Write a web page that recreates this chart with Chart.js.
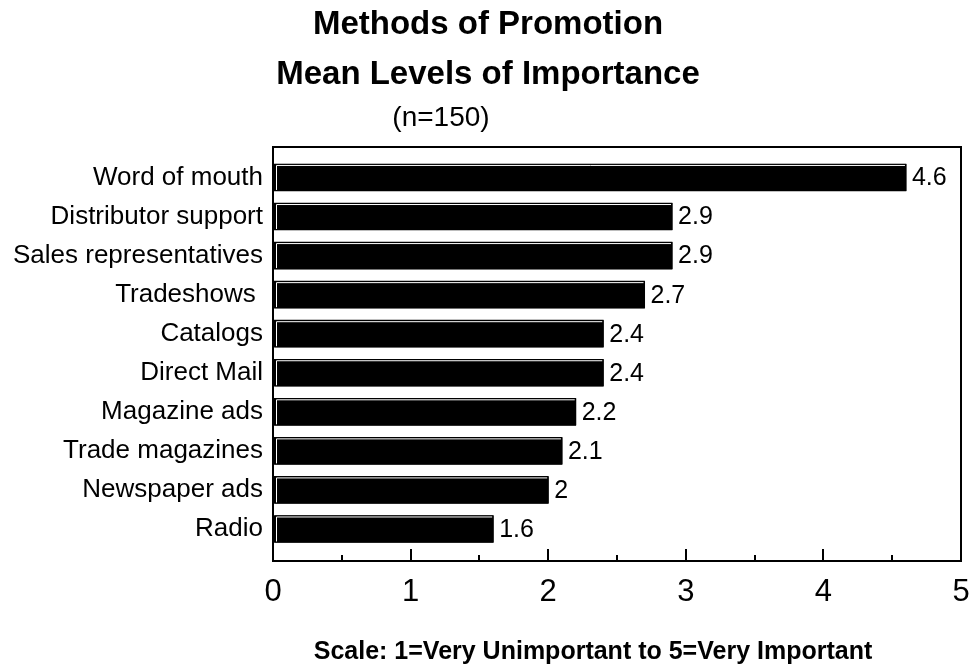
<!DOCTYPE html>
<html>
<head>
<meta charset="utf-8">
<script src="https://cdn.jsdelivr.net/npm/chart.js@4/dist/chart.umd.min.js"></script>
<style>
  html, body { margin: 0; padding: 0; background: #fff; }
  #wrap { width: 974px; height: 666px; position: relative; }
</style>
</head>
<body>
<div id="wrap"><canvas id="c"></canvas></div>
<script>
const categories = ["Word of mouth", "Distributor support", "Sales representatives", "Tradeshows ", "Catalogs", "Direct Mail", "Magazine ads", "Trade magazines", "Newspaper ads", "Radio"];
const meanValues = [4.6, 2.9, 2.9, 2.7, 2.4, 2.4, 2.2, 2.1, 2, 1.6];
const xTickValues = [0, 1, 2, 3, 4, 5];
const titleLines = ["Methods of Promotion", "Mean Levels of Importance"];
const subtitleText = "(n=150)";
const footerText = "Scale: 1=Very Unimportant to 5=Very Important";

const FONT = "'Liberation Sans', Arial, sans-serif";

const decorPlugin = {
  id: 'decor',
  afterDatasetsDraw(chart) {
    const ctx = chart.ctx;
    const meta = chart.getDatasetMeta(0);
    ctx.save();
    // white inset highlight on bars (top & left)
    meta.data.forEach((bar) => {
      const p = bar.getProps(['x', 'y', 'base', 'height'], true);
      const left = Math.min(p.x, p.base), right = Math.max(p.x, p.base);
      const top = p.y - p.height / 2, bottom = p.y + p.height / 2;
      ctx.strokeStyle = '#000';
      ctx.lineWidth = 1;
      ctx.strokeRect(left + 2.5, top + 0.5, right - left - 2.5, bottom - top - 1);
      ctx.strokeStyle = '#fff';
      ctx.beginPath();
      ctx.moveTo(left + 3.5, bottom - 1);
      ctx.lineTo(left + 3.5, top + 1.5);
      ctx.lineTo(right - 1, top + 1.5);
      ctx.stroke();
    });
    // value labels
    ctx.fillStyle = '#000';
    ctx.font = '25px ' + FONT;
    ctx.textAlign = 'left';
    ctx.textBaseline = 'middle';
    meta.data.forEach((bar, i) => {
      const p = bar.getProps(['x', 'y'], true);
      ctx.fillText(String(meanValues[i]), p.x + 6, p.y + 1);
    });
    // plot box
    const a = chart.chartArea;
    ctx.strokeStyle = '#000';
    ctx.lineWidth = 2;
    ctx.strokeRect(a.left, a.top, a.right - a.left, a.bottom - a.top);
    // tick marks inside the box
    const xs = chart.scales.x;
    ctx.lineWidth = 2;
    ctx.beginPath();
    for (let v = 0.5; v < 5; v += 0.5) {
      const px = Math.round(xs.getPixelForValue(v));
      const len = (v % 1 === 0) ? 12 : 6;
      ctx.moveTo(px, a.bottom);
      ctx.lineTo(px, a.bottom - len);
    }
    ctx.stroke();
    ctx.restore();
  },
  afterDraw(chart) {
    const ctx = chart.ctx;
    ctx.save();
    ctx.fillStyle = '#000';
    ctx.textAlign = 'center';
    ctx.textBaseline = 'alphabetic';
    ctx.font = 'bold 33px ' + FONT;
    ctx.fillText(titleLines[0], 488, 34);
    ctx.fillText(titleLines[1], 488, 84);
    ctx.font = '28px ' + FONT;
    ctx.fillText(subtitleText, 441, 126);
    ctx.font = 'bold 25px ' + FONT;
    ctx.fillText(footerText, 593, 659);
    ctx.restore();
  }
};

new Chart(document.getElementById('c'), {
  type: 'bar',
  data: {
    datasets: [{
      data: meanValues.map((v, i) => ({ x: v, y: i })),
      backgroundColor: '#000',
      borderWidth: 0,
      barThickness: 27
    }]
  },
  options: {
    indexAxis: 'y',
    responsive: true,
    maintainAspectRatio: false,
    animation: false,
    layout: { padding: { top: 147, right: 13, bottom: 0, left: 0 } },
    plugins: { legend: { display: false }, tooltip: { enabled: false }, title: { display: false } },
    scales: {
      y: {
        type: 'linear',
        reverse: true,
        offset: false,
        min: -0.78,
        max: 9.82,
        grid: { display: false, drawTicks: false },
        border: { display: false },
        afterBuildTicks(scale) { scale.ticks = categories.map((c, i) => ({ value: i })); },
        afterFit(scale) { scale.width = 273; scale.paddingTop = 0; scale.paddingBottom = 0; },
        ticks: {
          autoSkip: false,
          padding: 10,
          color: '#000',
          font: { family: FONT, size: 26 },
          callback: (v) => categories[v]
        }
      },
      x: {
        type: 'linear',
        min: 0,
        max: 5,
        offset: false,
        grid: { display: false, drawTicks: false },
        border: { display: false },
        afterBuildTicks(scale) { scale.ticks = xTickValues.map(v => ({ value: v })); },
        afterFit(scale) { scale.height = 105; scale.paddingLeft = 0; scale.paddingRight = 0; },
        ticks: {
          padding: 13,
          color: '#000',
          font: { family: FONT, size: 31 },
          callback: (v) => String(v)
        }
      }
    }
  },
  plugins: [decorPlugin]
});
</script>
</body>
</html>
